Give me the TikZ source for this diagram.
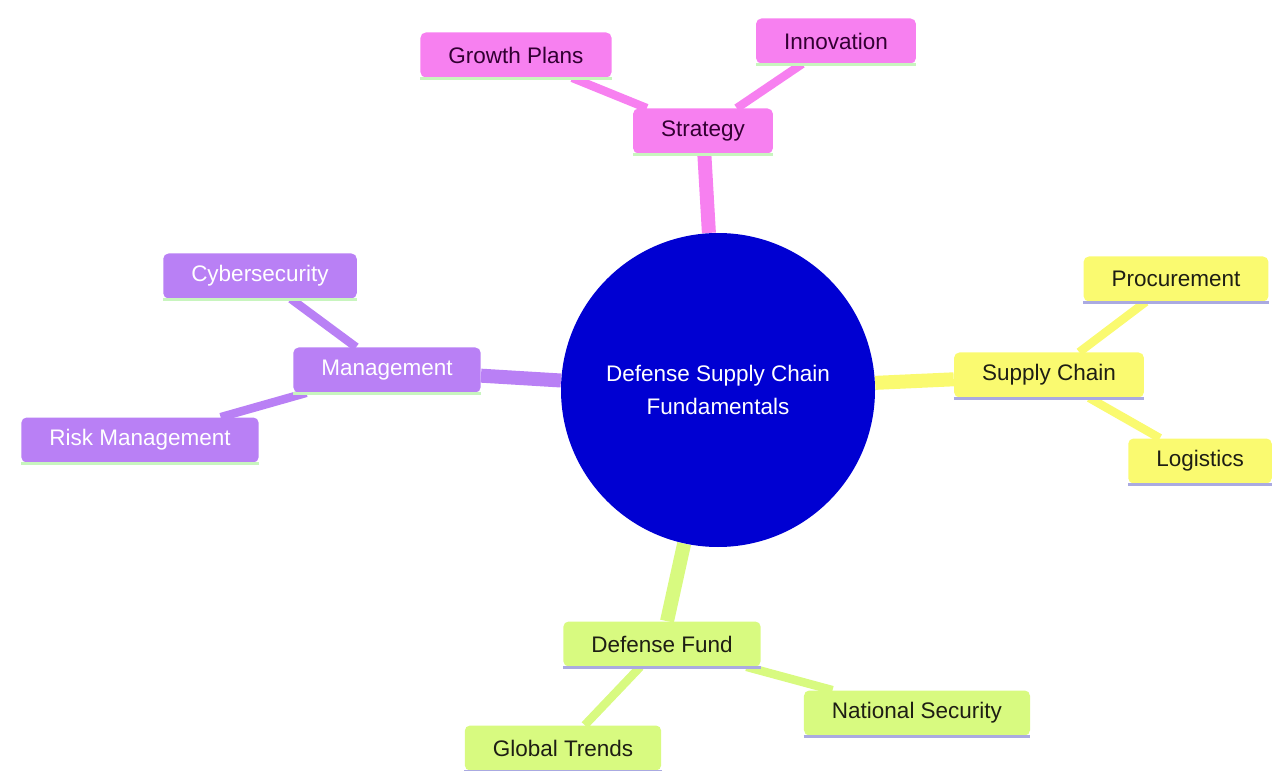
\documentclass[tikz,border=0pt]{standalone}
\usepackage{fontspec}
\setmainfont{Liberation Sans}
\pgfdeclarelayer{background}
\pgfsetlayers{background,main}
\definecolor{pinkf}{RGB}{247,128,240}
\definecolor{purpf}{RGB}{185,128,245}
\definecolor{yellf}{RGB}{250,250,112}
\definecolor{greenf}{RGB}{216,250,128}
\definecolor{ulgreen}{RGB}{200,245,190}
\definecolor{ullav}{RGB}{170,170,225}
\definecolor{centerblue}{RGB}{0,0,210}
\definecolor{pinktxt}{RGB}{50,0,50}
\definecolor{darktxt}{RGB}{30,30,20}
\begin{document}
\begin{tikzpicture}[
  every node/.style={font=\fontsize{12.8pt}{15pt}\selectfont},
  box/.style={rectangle, rounded corners=3pt, inner xsep=0.56cm, inner ysep=0pt, minimum height=0.9cm},
  pinkbox/.style={box, fill=pinkf, text=pinktxt},
  purpbox/.style={box, fill=purpf, text=white},
  yellbox/.style={box, fill=yellf, text=darktxt},
  greenbox/.style={box, fill=greenf, text=darktxt},
  edgeone/.style={line width=0.28cm},
  edgetwo/.style={line width=0.17cm},
  ulg/.style={draw=ulgreen, line width=1.8pt},
  ull/.style={draw=ullav, line width=1.8pt}
]
\useasboundingbox (0,0) rectangle (25.48,-15.42);

\node[circle, fill=centerblue, minimum size=6.28cm, text=white, align=center, inner sep=0pt,
  font=\fontsize{12.8pt}{19.3pt}\selectfont] (root) at (14.36,-7.80) {Defense Supply Chain\\Fundamentals};

\node[pinkbox] (strat) at (14.06,-2.62) {Strategy};
\node[pinkbox] (growth) at (10.32,-1.10) {Growth Plans};
\node[pinkbox] (innov) at (16.72,-0.82) {Innovation};

\node[purpbox] (mgmt) at (7.74,-7.40) {Management};
\node[purpbox] (cyber) at (5.20,-5.52) {Cybersecurity};
\node[purpbox] (risk) at (2.80,-8.80) {Risk Management};

\node[yellbox] (sc) at (20.98,-7.50) {Supply Chain};
\node[yellbox] (proc) at (23.52,-5.58) {Procurement};
\node[yellbox] (logi) at (24.00,-9.22) {Logistics};

\node[greenbox] (fund) at (13.24,-12.88) {Defense Fund};
\node[greenbox] (nat) at (18.34,-14.26) {National Security};
\node[greenbox] (glob) at (11.26,-14.96) {Global Trends};

\foreach \n in {strat,growth,innov,mgmt,cyber,risk}
  \draw[ulg] ([yshift=-0.6pt]\n.south west) -- ([yshift=-0.6pt]\n.south east);
\foreach \n in {sc,proc,logi,fund,nat,glob}
  \draw[ull] ([yshift=-0.6pt]\n.south west) -- ([yshift=-0.6pt]\n.south east);

\begin{pgfonlayer}{background}
\draw[edgeone, pinkf] (root) -- (strat);
\draw[edgeone, purpf] (root) -- (mgmt);
\draw[edgeone, yellf] (root) -- (sc);
\draw[edgeone, greenf] (root) -- (fund);
\draw[edgetwo, pinkf] (strat) -- (growth);
\draw[edgetwo, pinkf] (strat) -- (innov);
\draw[edgetwo, purpf] (mgmt) -- (cyber);
\draw[edgetwo, purpf] (mgmt) -- (risk);
\draw[edgetwo, yellf] (sc) -- (proc);
\draw[edgetwo, yellf] (sc) -- (logi);
\draw[edgetwo, greenf] (fund) -- (nat);
\draw[edgetwo, greenf] (fund) -- (glob);
\end{pgfonlayer}
\end{tikzpicture}
\end{document}
